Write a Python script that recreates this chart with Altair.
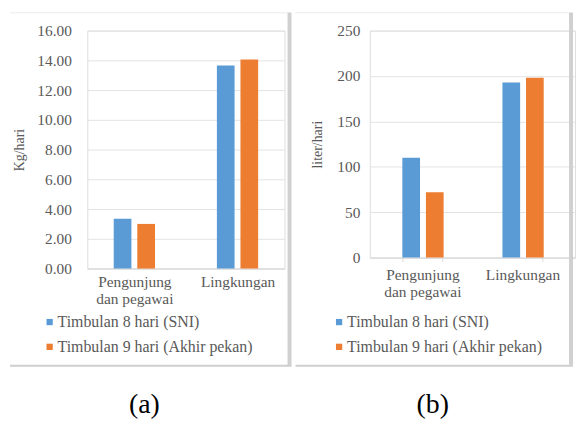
import altair as alt
import pandas as pd

categories = ["Pengunjung dan pegawai", "Lingkungan"]
series = ["Timbulan 8 hari (SNI)", "Timbulan 9 hari (Akhir pekan)"]
kg_8 = [3.35, 13.65]
kg_9 = [3.0, 14.05]
lt_8 = [110, 193]
lt_9 = [72, 198]
kg_ticks = [0, 2, 4, 6, 8, 10, 12, 14, 16]
lt_ticks = [0, 50, 100, 150, 200, 250]
colors = ["#5B9BD5", "#ED7D31"]

FONT = "Liberation Serif"


def table(a, b):
    rows = []
    for i, c in enumerate(categories):
        rows.append({"cat": c, "series": series[0], "v": a[i]})
        rows.append({"cat": c, "series": series[1], "v": b[i]})
    return pd.DataFrame(rows)


label_expr = "datum.label == 'Pengunjung dan pegawai' ? ['Pengunjung', 'dan pegawai'] : datum.label"


def panel(df, ticks, fmt, ytitle, w, h, pad_out, lab_pad, title_pad, leg_x, caption, dx,
          border_left, border_right, xticks):
    bars = alt.Chart(df).mark_bar().encode(
        x=alt.X("cat:N", sort=categories, title=None,
                scale=alt.Scale(paddingInner=0.6, paddingOuter=pad_out),
                axis=alt.Axis(labelAngle=0, labelExpr=label_expr, labelFont=FONT,
                              labelFontSize=15.5, labelColor="#595959", labelPadding=6,
                              domainColor="#d9d9d9", ticks=xticks, tickBand="extent",
                              tickColor="#d9d9d9", tickSize=4, labelLineHeight=17)),
        xOffset=alt.XOffset("series:N", sort=series,
                            scale=alt.Scale(paddingInner=0.25, paddingOuter=0)),
        y=alt.Y("v:Q", title=ytitle,
                scale=alt.Scale(domain=[ticks[0], ticks[-1]], nice=False),
                axis=alt.Axis(values=ticks, format=fmt, labelFont=FONT, labelFontSize=15.5,
                              labelColor="#595959", labelPadding=lab_pad, domain=False,
                              ticks=False, gridColor="#e3e3e3", titleFont=FONT,
                              titleFontSize=14, titleFontWeight="normal",
                              titleColor="#595959", titlePadding=title_pad)),
        color=alt.Color("series:N", sort=series,
                        scale=alt.Scale(domain=series, range=colors),
                        legend=alt.Legend(title=None, orient="none", legendX=leg_x,
                                          legendY=286, direction="vertical",
                                          symbolType="square", symbolSize=40,
                                          symbolStrokeWidth=0, labelFont=FONT,
                                          labelFontSize=16, labelColor="#595959",
                                          labelLimit=400, rowPadding=9, labelOffset=0)),
    )
    one = pd.DataFrame({"a": [0]})
    vline = alt.Chart(one).mark_rule(color="#d0d0d0", strokeWidth=4).encode(
        x=alt.value(border_right - 2), y=alt.value(-18), y2=alt.value(338))
    bline = alt.Chart(one).mark_rule(color="#cfcfcf", strokeWidth=2).encode(
        x=alt.value(border_left), x2=alt.value(border_right), y=alt.value(338))
    tline = alt.Chart(one).mark_rule(color="#ececec", strokeWidth=1).encode(
        x=alt.value(border_left), x2=alt.value(border_right), y=alt.value(-18))
    return alt.layer(tline, bline, vline, bars).properties(
        width=w, height=h,
        title=alt.TitleParams(caption, orient="bottom", anchor="middle", font=FONT,
                              fontSize=28, fontWeight="normal", color="#000000",
                              dx=dx, offset=24),
    )


left = panel(table(kg_8, kg_9), kg_ticks, ".2f", "Kg/hari", 199, 240, 0.256, 16, 10, -46,
             "(a)", -42, -78, 206, False)
right = panel(table(lt_8, lt_9), lt_ticks, "d", "liter/hari", 207, 229, 0.325, 10, 12, -39,
              "(b)", -40, -75, 205, True)

chart = alt.hconcat(left, right, spacing=0, padding=0,
                    autosize=alt.AutoSizeParams(type="pad")).resolve_scale(
    color="independent", x="independent", y="independent"
).resolve_legend(color="independent").configure_view(stroke=None).configure(
    background="white", font=FONT).configure_axis(
    labelFont=FONT, titleFont=FONT).configure_legend(labelFont=FONT).configure_title(font=FONT)

chart.save("out.html", embed_options={"renderer": "svg", "actions": False})
